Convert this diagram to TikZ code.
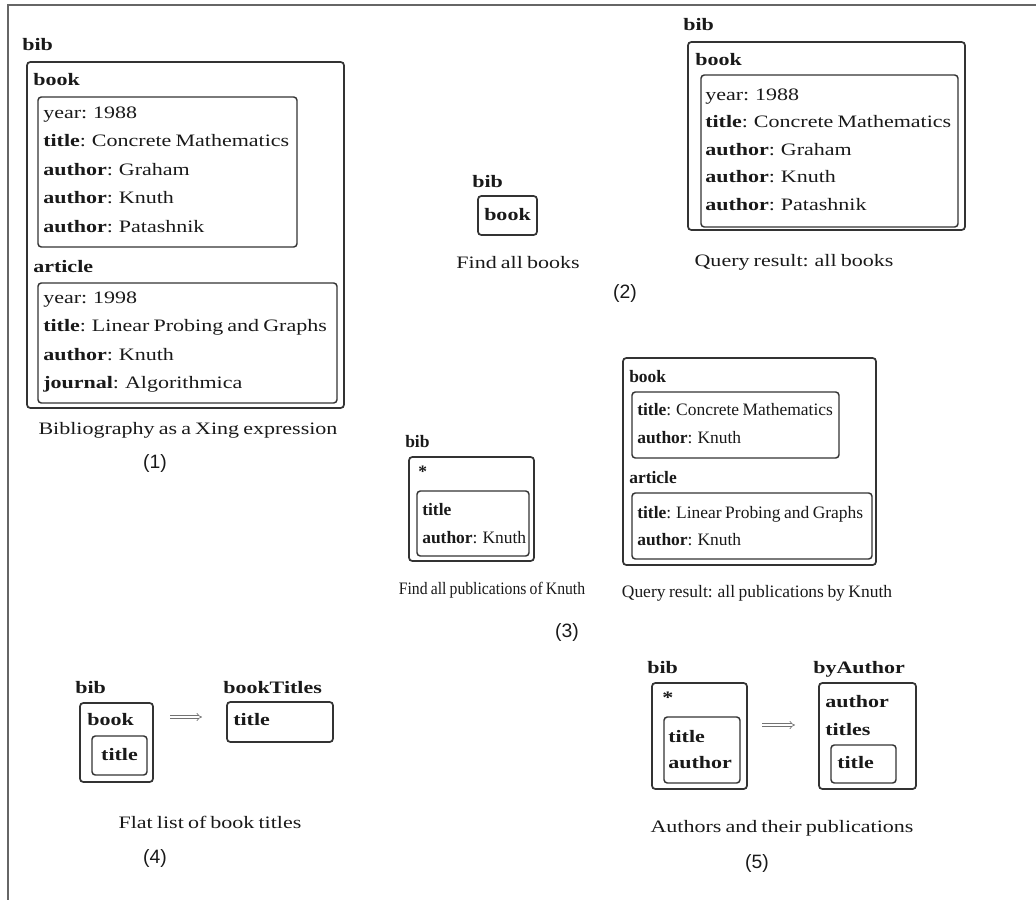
\documentclass[tikz,border=0pt]{standalone}
\usepackage{fontspec}
\setmainfont{Liberation Serif}[FakeStretch=1.26,WordSpace=0.75]
\newfontfamily\plainserif{Liberation Serif}[WordSpace=0.8]
\newfontfamily\condserif{Liberation Serif}[FakeStretch=0.9,WordSpace=0.8]
\newfontfamily\numfont{Liberation Sans}
\usetikzlibrary{fit,arrows.meta}
\newcommand\panelfam{}

\begin{document}
\fontsize{13.1pt}{15pt}\selectfont
\begin{tikzpicture}[x=0.75pt,y=-0.75pt,
  every node/.style={inner sep=0, text=black!90},
  key/.style={anchor=west, font=\panelfam\bfseries, text height=1.5ex, text depth=.25ex},
  fld/.style={anchor=west, font=\panelfam, text height=1.5ex, text depth=.25ex},
  captxt/.style={anchor=center, font=\panelfam},
  num/.style={anchor=center, font=\numfont\fontsize{14.5pt}{16pt}\selectfont},
  box/.style={draw=black!80, line width=1.1pt, rounded corners=2.5pt, inner sep=0},
  outerbox/.style={box, line width=1.3pt},
  imp/.style={double, double distance=1.6pt, line width=0.5pt, draw=black!55, -{Implies}},
  pageframe/.style={draw=black!60, line width=1.2pt}]
\useasboundingbox (0,0) rectangle (1036,900);

% page frame (top and left rules)
\coordinate (fTL) at (8,5);
\coordinate (fTR) at (1036,5);
\coordinate (fBL) at (8,900);
\draw[pageframe] (fTR) -- (fTL) -- (fBL);

% ---------- (1) the bibliography ----------
\node[key] (p1bib) at (22,45) {bib};
\node[outerbox, fit={(27,62) (344,408)}] (p1outer) {};
\node[key] (p1book) at (33,80) {book};
\node[box, fit={(38,97) (297,247)}] (p1bookbox) {};
\node[fld] (p1b1) at (43,113) {year: 1988};
\node[fld] (p1b2) at (43,141.5) {{\bfseries title}: Concrete Mathematics};
\node[fld] (p1b3) at (43,170) {{\bfseries author}: Graham};
\node[fld] (p1b4) at (43,198.5) {{\bfseries author}: Knuth};
\node[fld] (p1b5) at (43,227) {{\bfseries author}: Patashnik};
\node[key] (p1art) at (33,267) {article};
\node[box, fit={(38,283) (337,403)}] (p1artbox) {};
\node[fld] (p1a1) at (43,298) {year: 1998};
\node[fld] (p1a2) at (43,326.5) {{\bfseries title}: Linear Probing and Graphs};
\node[fld] (p1a3) at (43,355) {{\bfseries author}: Knuth};
\node[fld] (p1a4) at (43,383) {{\bfseries journal}: Algorithmica};
\node[captxt] (p1cap) at (188,430) {Bibliography as a Xing expression};
\node[num] (p1num) at (155,463) {(1)};

% ---------- (2) find all books ----------
\node[key] (p2bib) at (472,182) {bib};
\node[outerbox, fit={(478,196) (537,235)}] (p2qbox) {};
\node[key, anchor=center] (p2qbook) at (p2qbox.center) {book};
\node[captxt] (p2qcap) at (518,263) {Find all books};
\node[num] (p2num) at (625,293) {(2)};

\node[key] (p2rbib) at (683,25) {bib};
\node[outerbox, fit={(688,42) (965,230)}] (p2router) {};
\node[key] (p2rbook) at (695,60) {book};
\node[box, fit={(701,75) (958,227)}] (p2rbookbox) {};
\node[fld] (p2r1) at (705,95) {year: 1988};
\node[fld] (p2r2) at (705,122.5) {{\bfseries title}: Concrete Mathematics};
\node[fld] (p2r3) at (705,150) {{\bfseries author}: Graham};
\node[fld] (p2r4) at (705,177.5) {{\bfseries author}: Knuth};
\node[fld] (p2r5) at (705,205) {{\bfseries author}: Patashnik};
\node[captxt] (p2rcap) at (794,262) {Query result: all books};

% ---------- (3) publications of Knuth ----------
\begin{scope}
\def\panelfam{\plainserif}
\node[key] (p3bib) at (405,442) {bib};
\node[outerbox, fit={(409,457) (534,561)}] (p3qouter) {};
\node[key] (p3star) at (418,472) {*};
\node[box, fit={(417,491) (529,556)}] (p3qinner) {};
\node[key] (p3q1) at (422,510) {title};
\node[fld] (p3q2) at (422,538) {{\bfseries author}: Knuth};
\node[captxt, font=\condserif] (p3qcap) at (492,590) {Find all publications of Knuth};

\node[outerbox, fit={(623,358) (876,565)}] (p3router) {};
\node[key] (p3rbook) at (629,377) {book};
\node[box, fit={(632,392) (839,458)}] (p3rbookbox) {};
\node[fld] (p3rb1) at (637,410) {{\bfseries title}: Concrete Mathematics};
\node[fld] (p3rb2) at (637,438) {{\bfseries author}: Knuth};
\node[key] (p3rart) at (629,478) {article};
\node[box, fit={(632,493) (872,559)}] (p3rartbox) {};
\node[fld] (p3ra1) at (637,513) {{\bfseries title}: Linear Probing and Graphs};
\node[fld] (p3ra2) at (637,540) {{\bfseries author}: Knuth};
\node[captxt] (p3rcap) at (757,593) {Query result: all publications by Knuth};
\end{scope}
\node[num] (p3num) at (567,632) {(3)};

% ---------- (4) flat list of book titles ----------
\node[key] (p4bib) at (75,688) {bib};
\node[outerbox, fit={(80,703) (153,782)}] (p4outer) {};
\node[key] (p4book) at (87,720) {book};
\node[box, fit={(92,736) (147,775)}] (p4inner) {};
\node[key, anchor=center] (p4title) at (p4inner.center) {title};
\coordinate (p4from) at (170,717);
\coordinate (p4to) at (202,717);
\draw[imp] (p4from) -- (p4to);
\node[key] (p4res) at (223,688) {bookTitles};
\node[outerbox, fit={(227,702) (333,742)}] (p4resbox) {};
\node[key] (p4rtitle) at (233,720) {title};
\node[captxt] (p4cap) at (210,822) {Flat list of book titles};
\node[num] (p4num) at (155,858) {(4)};

% ---------- (5) authors and their publications ----------
\node[key] (p5bib) at (647,668) {bib};
\node[outerbox, fit={(652,683) (747,789)}] (p5outer) {};
\node[key] (p5star) at (662,698) {*};
\node[box, fit={(664,717) (740,783)}] (p5inner) {};
\node[key] (p5t) at (668,737) {title};
\node[key] (p5a) at (668,763) {author};
\coordinate (p5from) at (762,725);
\coordinate (p5to) at (795,725);
\draw[imp] (p5from) -- (p5to);
\node[key] (p5res) at (813,668) {byAuthor};
\node[outerbox, fit={(819,683) (916,789)}] (p5resbox) {};
\node[key] (p5ra) at (825,702) {author};
\node[key] (p5rts) at (825,730) {titles};
\node[box, fit={(831,745) (896,783)}] (p5rinner) {};
\node[key] (p5rt) at (837,763) {title};
\node[captxt] (p5cap) at (782,828) {Authors and their publications};
\node[num] (p5num) at (757,863) {(5)};
\end{tikzpicture}
\end{document}
